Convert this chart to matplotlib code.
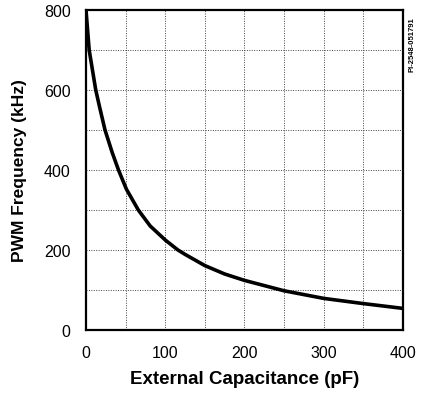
import matplotlib.pyplot as plt
import numpy as np

plt.rcParams['font.family'] = ['Liberation Sans', 'DejaVu Sans']

# values
capacitance_pf = [0, 4, 12.3, 17.2, 24, 33, 41, 51, 66, 81, 100, 116,
                  125, 150, 175, 200, 250, 300, 350, 400]
frequency_khz = [800, 700, 600, 557, 500, 444, 400, 352, 300, 260, 225, 200,
                 189, 161, 140, 124, 98, 79, 66, 54]

x_ticks = [0, 100, 200, 300, 400]
y_ticks = [0, 200, 400, 600, 800]

fig = plt.figure(figsize=(4.27, 4.02), dpi=100)
ax = fig.add_axes([86 / 427, 71 / 402, 317 / 427, 320 / 402])

ax.plot(capacitance_pf, frequency_khz, color='black', linewidth=2.6,
        solid_capstyle='butt', solid_joinstyle='round')

ax.set_xlim(0, 400)
ax.set_ylim(0, 800)
ax.set_xticks(x_ticks)
ax.set_yticks(y_ticks)
ax.set_xticks(np.arange(0, 401, 50), minor=True)
ax.set_yticks(np.arange(0, 801, 100), minor=True)
ax.grid(True, which='both', linestyle=(0, (1, 1.5)), color='#444444', linewidth=0.7)
ax.tick_params(which='both', length=0, labelsize=11.5)
ax.tick_params(axis='x', pad=11)
ax.tick_params(axis='y', pad=11)

for s in ax.spines.values():
    s.set_linewidth(1.6)

ax.set_xlabel('External Capacitance (pF)', fontsize=13.5, fontweight='bold', labelpad=7)
ax.set_ylabel('PWM Frequency (kHz)', fontsize=12.5, fontweight='bold', labelpad=12)

fig.text(412 / 427, 1 - 45 / 402, 'PI-2548-051791', rotation=90, fontsize=5.5,
         fontweight='bold', ha='center', va='center')

fig.savefig('out.png', dpi=100)
